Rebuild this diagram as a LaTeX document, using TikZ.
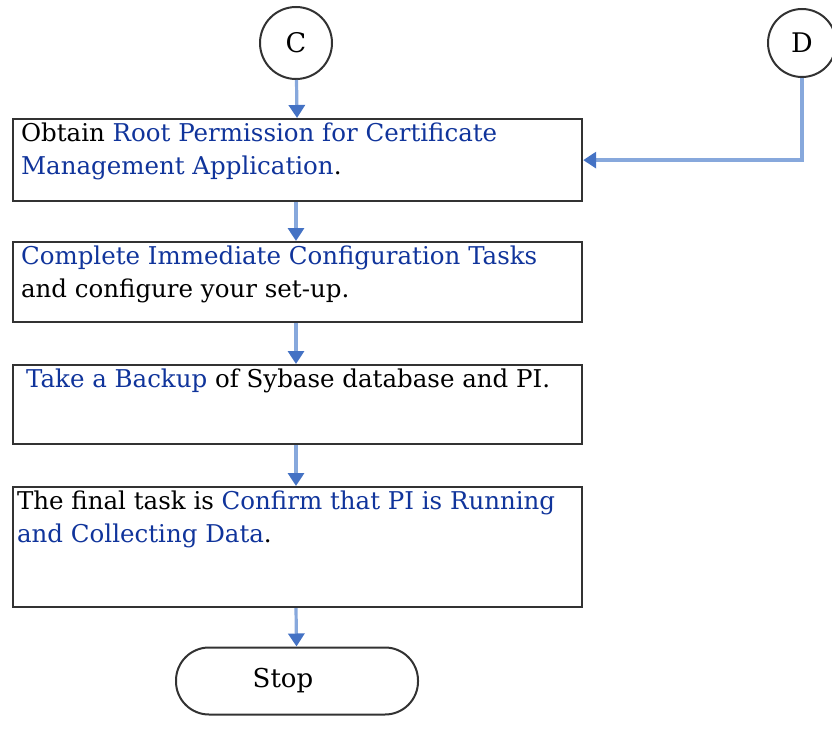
\documentclass[tikz,border=0pt]{standalone}
\usepackage{fontspec}
\setmainfont{DejaVu Serif}
\usetikzlibrary{arrows.meta}

\definecolor{linkblue}{RGB}{16,52,155}
\definecolor{flowline}{RGB}{135,168,220}
\definecolor{flowhead}{RGB}{68,114,196}
\definecolor{boxline}{RGB}{50,50,50}
\newcommand{\lnk}[1]{\textcolor{linkblue}{#1}}
\newcommand{\taskbody}[2]{\parbox[c][#1][t]{553pt}{\raggedright #2}}

\begin{document}
\begin{tikzpicture}[x=1pt, y=-1pt,
    task/.style={draw=boxline, line width=2.2pt, inner xsep=8pt, inner ysep=4pt, anchor=north west, font=\fontsize{24.5}{33}\selectfont},
    offpage/.style={draw=boxline, line width=2pt, circle, inner sep=0pt, font=\fontsize{27}{30}\selectfont},
    flow/.style={flowline, line width=3.2pt, -{Triangle[length=13pt,width=16pt,color=flowhead]}}]
    \useasboundingbox (0,0) rectangle (832,730); % page size
    \node[offpage, minimum size=72pt] (C) at (296,43) {C}; % connector C
    \node[offpage, minimum size=68pt] (D) at (802,43) {D}; % connector D
    \node[task] (root) at (12,118) {\taskbody{74pt}{Obtain \lnk{Root Permission for Certificate}\\ \lnk{Management Application}.}}; % root permission
    \node[task] (config) at (12,241) {\taskbody{72pt}{\lnk{Complete Immediate Configuration Tasks}\\ and configure your set-up.}}; % configuration
    \node[task] (backup) at (12,364) {\taskbody{71pt}{\hspace{5pt}\lnk{Take a Backup} of Sybase database and PI.}}; % backup
    \node[task] (confirm) at (12,486) {\taskbody{112pt}{\hspace{-4pt}The final task is \lnk{Confirm that PI is Running}\\ \hspace{-4pt}\lnk{and Collecting Data}.}}; % final check
    \node[draw=boxline, line width=2pt, rounded corners=33pt, minimum width=242pt, minimum height=67pt, font=\fontsize{26}{30}\selectfont] (stop) at (297,681) {\hspace{-28pt}Stop}; % end
    \draw[flow] (C) -- (root); % C to first task
    \draw[flow] (D.south) |- (root.east); % D joins in
    \draw[flow] (root.south -| C) -- (config.north -| C);
    \draw[flow] (config.south -| C) -- (backup.north -| C);
    \draw[flow] (backup.south -| C) -- (confirm.north -| C);
    \draw[flow] (confirm.south -| C) -- (stop);
\end{tikzpicture}
\end{document}
